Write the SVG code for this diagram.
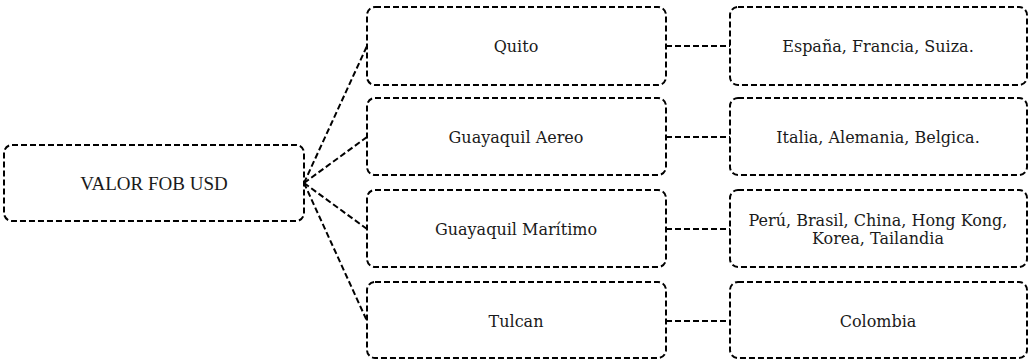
<svg xmlns="http://www.w3.org/2000/svg" width="1030" height="360" viewBox="0 0 1030 360">
<style>
.box{fill:#fff;stroke:#000;stroke-width:2;stroke-dasharray:6,3}
.con{fill:none;stroke:#000;stroke-width:2;stroke-dasharray:6,3}
.t{font-family:"DejaVu Serif","Liberation Serif",serif;font-size:16px;fill:#1a1a1a;text-anchor:middle;dominant-baseline:central}
.r{font-family:"Liberation Serif",serif;font-size:19px;fill:#1a1a1a;text-anchor:middle;dominant-baseline:central}
</style>
<rect width="1030" height="360" fill="#fff"/>
<g id="connectors">
<line class="con" x1="304" y1="183" x2="367" y2="46"/>
<line class="con" x1="304" y1="183" x2="367" y2="137"/>
<line class="con" x1="304" y1="183" x2="367" y2="229"/>
<line class="con" x1="304" y1="183" x2="367" y2="321"/>
<line class="con" x1="666" y1="46" x2="730" y2="46"/>
<line class="con" x1="666" y1="137" x2="730" y2="137"/>
<line class="con" x1="666" y1="229" x2="730" y2="229"/>
<line class="con" x1="666" y1="321" x2="730" y2="321"/>
</g>
<g id="root"><rect class="box" x="4" y="145" width="300" height="76" rx="8"/><text class="r" x="154" y="183">VALOR FOB USD</text></g>
<g id="quito"><rect class="box" x="367" y="7" width="299" height="78" rx="8"/><text class="t" x="516" y="46">Quito</text></g>
<g id="gye-aereo"><rect class="box" x="367" y="98" width="299" height="77" rx="8"/><text class="t" x="516" y="137">Guayaquil Aereo</text></g>
<g id="gye-maritimo"><rect class="box" x="367" y="190" width="299" height="77" rx="8"/><text class="t" x="516" y="229">Guayaquil Marítimo</text></g>
<g id="tulcan"><rect class="box" x="367" y="282" width="299" height="76" rx="8"/><text class="t" x="516" y="321">Tulcan</text></g>
<g id="d-quito"><rect class="box" x="730" y="7" width="297" height="78" rx="8"/><text class="t" x="878" y="46">España, Francia, Suiza.</text></g>
<g id="d-aereo"><rect class="box" x="730" y="98" width="297" height="77" rx="8"/><text class="t" x="878" y="137">Italia, Alemania, Belgica.</text></g>
<g id="d-maritimo"><rect class="box" x="730" y="190" width="297" height="77" rx="8"/><text class="t" x="878" y="220">Perú, Brasil, China, Hong Kong,</text><text class="t" x="878" y="238">Korea, Tailandia</text></g>
<g id="d-tulcan"><rect class="box" x="730" y="282" width="297" height="76" rx="8"/><text class="t" x="878" y="321">Colombia</text></g>
</svg>
